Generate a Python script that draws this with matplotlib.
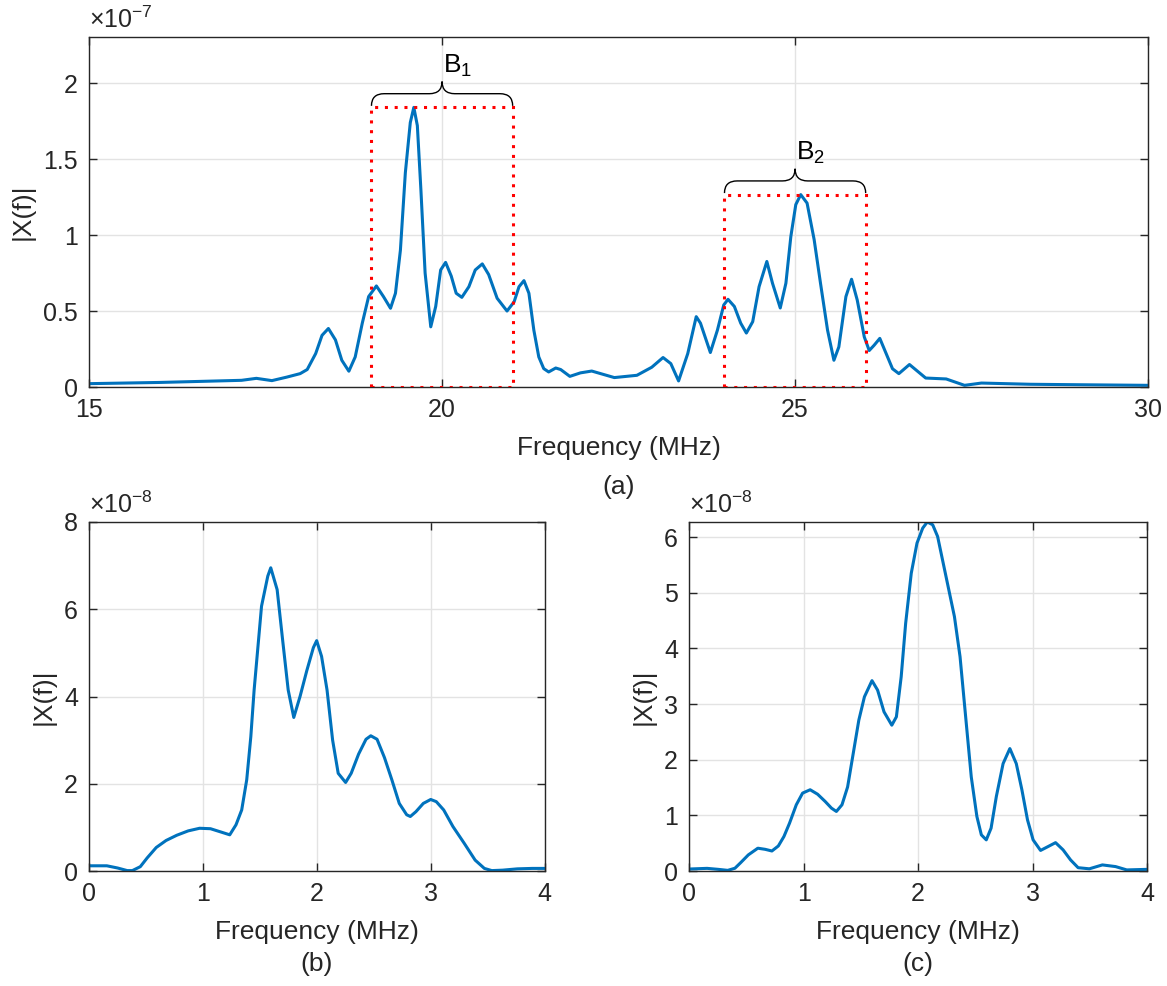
import matplotlib
matplotlib.use("Agg")
import matplotlib.pyplot as plt
from matplotlib.path import Path
from matplotlib.patches import PathPatch, Rectangle

plt.rcParams['font.family'] = ['Liberation Sans', 'DejaVu Sans']
plt.rcParams['mathtext.fontset'] = 'custom'
plt.rcParams['mathtext.rm'] = 'Liberation Sans'
plt.rcParams['mathtext.it'] = 'Liberation Sans'
plt.rcParams['lines.solid_joinstyle'] = 'round'
plt.rcParams['lines.solid_capstyle'] = 'round'

TEXT = '#262626'
BLUE = '#0072BD'
GRID = '#e3e3e3'

# (a) full spectrum, magnitude in units of 1e-7
freq_a = [15.0, 15.5, 16.0, 16.5, 17.16, 17.37, 17.59, 17.8, 17.99, 18.09, 18.21, 18.30,
          18.39, 18.49, 18.58, 18.68, 18.77, 18.87, 18.96, 19.07, 19.17, 19.27, 19.34,
          19.41, 19.48, 19.55, 19.60, 19.65, 19.70, 19.76, 19.84, 19.91, 19.98, 20.05,
          20.13, 20.20, 20.28, 20.38, 20.47, 20.57, 20.66, 20.78, 20.92, 21.02, 21.09,
          21.16, 21.23, 21.30, 21.37, 21.44, 21.51, 21.61, 21.68, 21.81, 21.96, 22.12,
          22.44, 22.76, 22.97, 23.13, 23.24, 23.35, 23.48, 23.60, 23.66, 23.80, 23.90,
          23.99, 24.05, 24.14, 24.23, 24.31, 24.40, 24.49, 24.60, 24.68, 24.79, 24.87,
          24.94, 25.01, 25.08, 25.17, 25.27, 25.36, 25.46, 25.55, 25.62, 25.72, 25.80,
          25.88, 25.98, 26.05, 26.12, 26.20, 26.29, 26.38, 26.47, 26.62, 26.85, 27.14,
          27.40, 27.64, 28.33, 29.0, 30.0]
mag_a = [0.022, 0.026, 0.030, 0.036, 0.044, 0.057, 0.042, 0.065, 0.088, 0.115, 0.22, 0.34,
         0.385, 0.31, 0.176, 0.104, 0.198, 0.42, 0.595, 0.665, 0.595, 0.518, 0.617,
         0.90, 1.41, 1.74, 1.84, 1.72, 1.30, 0.75, 0.396, 0.53, 0.77, 0.82,
         0.73, 0.617, 0.59, 0.66, 0.77, 0.81, 0.74, 0.584, 0.50, 0.56, 0.66,
         0.70, 0.617, 0.374, 0.198, 0.121, 0.099, 0.125, 0.115, 0.07, 0.093, 0.105,
         0.062, 0.077, 0.13, 0.194, 0.154, 0.04, 0.22, 0.463, 0.42, 0.227, 0.374,
         0.54, 0.577, 0.53, 0.42, 0.355, 0.43, 0.66, 0.826, 0.683, 0.52, 0.683,
         0.99, 1.20, 1.266, 1.21, 0.97, 0.683, 0.374, 0.176, 0.264, 0.595, 0.709,
         0.573, 0.33, 0.24, 0.275, 0.32, 0.22, 0.12, 0.088, 0.148, 0.059, 0.053,
         0.011, 0.026, 0.018, 0.015, 0.011]

# (b) baseband of first band, units of 1e-8
freq_b = [0.0, 0.156, 0.25, 0.335, 0.38, 0.45, 0.51, 0.59, 0.676, 0.77, 0.87, 0.97,
          1.066, 1.163, 1.235, 1.29, 1.34, 1.384, 1.42, 1.449, 1.514, 1.569, 1.595,
          1.651, 1.699, 1.748, 1.797, 1.852, 1.911, 1.969, 1.998, 2.041, 2.089, 2.138,
          2.187, 2.252, 2.301, 2.366, 2.431, 2.473, 2.528, 2.593, 2.658, 2.723, 2.788,
          2.820, 2.869, 2.934, 2.999, 3.048, 3.113, 3.194, 3.292, 3.389, 3.470, 3.535,
          3.63, 3.76, 3.89, 4.0]
mag_b = [0.12, 0.12, 0.07, 0.01, 0.01, 0.10, 0.30, 0.54, 0.70, 0.82, 0.92, 0.98,
         0.97, 0.89, 0.83, 1.06, 1.40, 2.09, 3.08, 4.15, 6.07, 6.76, 6.95,
         6.45, 5.30, 4.15, 3.52, 4.0, 4.59, 5.12, 5.28, 4.92, 4.15, 3.0,
         2.24, 2.03, 2.24, 2.68, 3.02, 3.10, 3.02, 2.60, 2.09, 1.55, 1.29,
         1.25, 1.36, 1.55, 1.64, 1.59, 1.40, 1.02, 0.64, 0.25, 0.06, 0.01,
         0.02, 0.05, 0.06, 0.06]

# (c) baseband of second band, units of 1e-8
freq_c = [0.0, 0.157, 0.255, 0.337, 0.40, 0.45, 0.517, 0.60, 0.664, 0.723, 0.779, 0.828,
          0.877, 0.936, 0.991, 1.057, 1.122, 1.188, 1.243, 1.286, 1.335, 1.384, 1.433,
          1.482, 1.531, 1.597, 1.646, 1.702, 1.770, 1.810, 1.852, 1.891, 1.94, 1.99,
          2.04, 2.08, 2.127, 2.17, 2.219, 2.268, 2.317, 2.366, 2.415, 2.464, 2.513,
          2.552, 2.595, 2.637, 2.683, 2.742, 2.801, 2.857, 2.906, 2.955, 3.004, 3.069,
          3.135, 3.20, 3.266, 3.331, 3.397, 3.495, 3.609, 3.724, 3.822, 4.0]
mag_c = [0.036, 0.048, 0.03, 0.012, 0.05, 0.15, 0.29, 0.41, 0.39, 0.36, 0.45, 0.62,
         0.86, 1.19, 1.40, 1.46, 1.38, 1.25, 1.13, 1.07, 1.19, 1.51, 2.11,
         2.71, 3.13, 3.42, 3.25, 2.86, 2.62, 2.77, 3.49, 4.45, 5.35, 5.89,
         6.16, 6.27, 6.22, 6.01, 5.53, 5.05, 4.57, 3.85, 2.77, 1.69, 0.98,
         0.65, 0.56, 0.77, 1.34, 1.93, 2.20, 1.93, 1.46, 0.92, 0.56, 0.37,
         0.44, 0.51, 0.38, 0.20, 0.06, 0.04, 0.11, 0.08, 0.02, 0.03]

# band edges (MHz) and labels
bands = [(19.0, 21.0), (24.0, 26.0)]
band_labels = [r'B$_{\mathregular{1}}$', r'B$_{\mathregular{2}}$']


def style_axes(ax, exponent):
    ax.grid(True, color=GRID, linewidth=1.0)
    ax.set_axisbelow(True)
    ax.tick_params(direction='in', length=6, width=1, top=True, right=True,
                   colors=TEXT, labelsize=18, pad=8)
    for s in ax.spines.values():
        s.set_color(TEXT)
        s.set_linewidth(1.0)
    ax.text(0.0, 1.012, '\u00d710$^{\\mathregular{' + exponent + '}}$',
            transform=ax.transAxes, fontsize=18, color=TEXT, va='bottom', ha='left')
    ax.set_ylabel('|X(f)|', fontsize=19, color=TEXT, labelpad=6)
    ax.set_xlabel('Frequency (MHz)', fontsize=19, color=TEXT, labelpad=10)


def brace(ax, x0, x1, y0, h):
    # curly brace over [x0, x1], ends at y0, tip at y0 + h
    xm = 0.5 * (x0 + x1)
    r = 0.09 * (x1 - x0)
    ym = y0 + 0.5 * h
    verts = [(x0, y0), (x0, ym), (x0 + r, ym),
             (xm - r, ym), (xm, ym), (xm, y0 + h),
             (xm, ym), (xm + r, ym),
             (x1 - r, ym), (x1, ym), (x1, y0)]
    codes = [Path.MOVETO, Path.CURVE3, Path.CURVE3,
             Path.LINETO, Path.CURVE3, Path.CURVE3,
             Path.CURVE3, Path.CURVE3,
             Path.LINETO, Path.CURVE3, Path.CURVE3]
    ax.add_patch(PathPatch(Path(verts, codes), fill=False, color='black', lw=1.0,
                           clip_on=False))


fig = plt.figure(figsize=(11.67, 9.86), dpi=100)

ax1 = fig.add_axes([0.0763, 0.6075, 0.9075, 0.3545])
ax1.plot(freq_a, mag_a, color=BLUE, linewidth=2.2)
ax1.set_xlim(15, 30)
ax1.set_ylim(0, 2.3)
ax1.set_xticks([15, 20, 25, 30])
ax1.set_yticks([0, 0.5, 1, 1.5, 2])
ax1.set_yticklabels(['0', '0.5', '1', '1.5', '2'])
style_axes(ax1, '-7')
ax1.text(0.5, -0.285, '(a)', transform=ax1.transAxes, ha='center', va='center',
         fontsize=19, color=TEXT)

for (lo, hi), lab in zip(bands, band_labels):
    inside = [m for f, m in zip(freq_a, mag_a) if lo <= f <= hi]
    top = max(inside)
    ax1.add_patch(Rectangle((lo, 0), hi - lo, top, fill=False, edgecolor='red',
                            linestyle=(0, (1, 2.2)), linewidth=2.2, zorder=3))
    brace(ax1, lo, hi, top + 0.01, 0.16)
    ax1.text(0.5 * (lo + hi) + 0.01, top + 0.19, lab, ha='left', va='bottom',
             fontsize=19, color='black')

ax2 = fig.add_axes([0.0763, 0.1166, 0.3905, 0.354])
ax2.plot(freq_b, mag_b, color=BLUE, linewidth=2.2)
ax2.set_xlim(0, 4)
ax2.set_ylim(0, 8)
ax2.set_xticks([0, 1, 2, 3, 4])
ax2.set_yticks([0, 2, 4, 6, 8])
style_axes(ax2, '-8')
ax2.text(0.5, -0.265, '(b)', transform=ax2.transAxes, ha='center', va='center',
         fontsize=19, color=TEXT)

ax3 = fig.add_axes([0.5905, 0.1166, 0.3925, 0.354])
ax3.plot(freq_c, mag_c, color=BLUE, linewidth=2.2)
ax3.set_xlim(0, 4)
ax3.set_ylim(0, 6.27)
ax3.set_xticks([0, 1, 2, 3, 4])
ax3.set_yticks([0, 1, 2, 3, 4, 5, 6])
style_axes(ax3, '-8')
ax3.text(0.5, -0.265, '(c)', transform=ax3.transAxes, ha='center', va='center',
         fontsize=19, color=TEXT)

fig.savefig('out.png', dpi=100)
